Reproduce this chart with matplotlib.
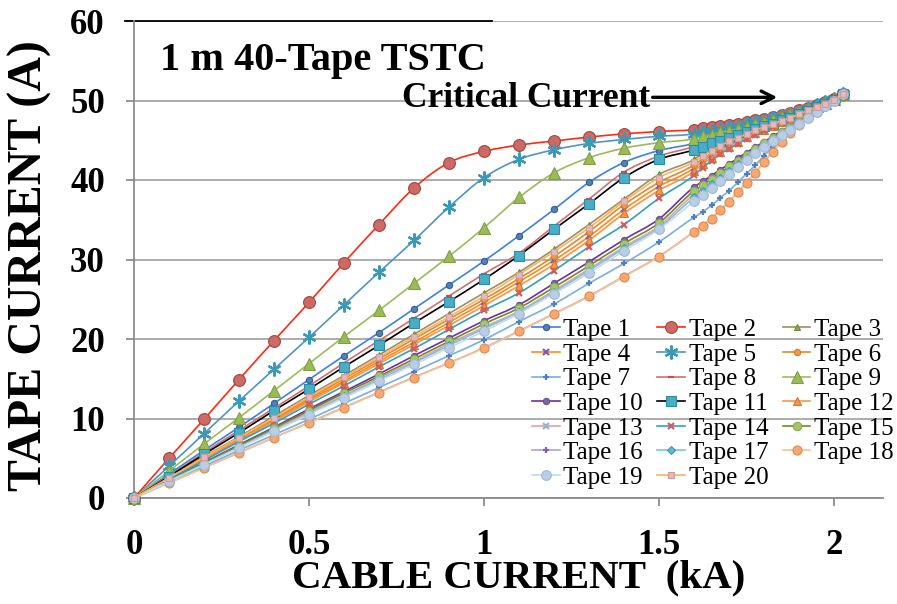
import numpy as np
import matplotlib
matplotlib.use("Agg")
import matplotlib.pyplot as plt
from matplotlib.path import Path
from matplotlib.patches import PathPatch
from matplotlib.lines import Line2D

plt.rcParams['font.family'] = ['Liberation Serif', 'DejaVu Serif']

# cable current (kA): 0.1 kA steps to 1.6 kA, then 25 A steps up to the critical current
cable_kA = [0.0, 0.1, 0.2, 0.3, 0.4, 0.5, 0.6, 0.7, 0.8, 0.9, 1.0, 1.1, 1.2, 1.3, 1.4, 1.5, 1.6,
            1.625, 1.65, 1.675, 1.7, 1.725, 1.75, 1.775, 1.8, 1.825, 1.85, 1.875, 1.9, 1.925,
            1.95, 1.975, 2.0, 2.025]

# tape currents (A)
tape_1 = [0, 3.0, 6.0, 8.9, 11.9, 14.9, 17.9, 20.8, 23.8, 26.8, 29.8, 33.0, 36.3, 39.7, 42.2, 43.7, 44.6,
          44.9, 45.25, 45.55, 45.85, 46.1, 46.4, 46.75, 47.0, 47.35, 47.7, 48.05, 48.4, 48.85, 49.25, 49.7, 50.15, 50.8]
tape_2 = [0, 5.0, 9.9, 14.9, 19.8, 24.6, 29.6, 34.4, 39.0, 42.2, 43.6, 44.4, 44.9, 45.4, 45.8, 46.1, 46.35,
          46.5, 46.65, 46.8, 46.95, 47.1, 47.3, 47.5, 47.7, 47.95, 48.2, 48.45, 48.75, 49.1, 49.45, 49.8, 50.2, 50.8]
tape_3 = [0, 2.6, 5.2, 7.7, 10.3, 12.9, 15.4, 18.0, 20.6, 23.2, 25.8, 28.4, 31.3, 34.4, 37.6, 40.7, 42.6,
          43.3, 43.9, 44.5, 45.0, 45.45, 45.9, 46.35, 46.7, 47.1, 47.5, 47.9, 48.3, 48.75, 49.2, 49.6, 50.1, 50.8]
tape_4 = [0, 2.45, 4.9, 7.4, 9.8, 12.3, 14.7, 17.2, 19.6, 22.1, 24.6, 27.2, 29.9, 32.9, 36.3, 39.2, 41.5,
          42.35, 43.1, 43.8, 44.45, 44.95, 45.5, 46.0, 46.45, 46.9, 47.35, 47.7, 48.15, 48.65, 49.1, 49.55, 50.1, 50.8]
tape_5 = [0, 4.0, 8.1, 12.2, 16.2, 20.2, 24.3, 28.4, 32.4, 36.6, 40.3, 42.6, 43.8, 44.6, 45.1, 45.5, 45.8,
          46.0, 46.2, 46.4, 46.6, 46.8, 47.0, 47.3, 47.5, 47.8, 48.0, 48.3, 48.6, 49.0, 49.4, 49.8, 50.2, 50.8]
tape_6 = [0, 2.5, 5.0, 7.5, 10.0, 12.5, 15.0, 17.5, 20.0, 22.5, 25.0, 27.6, 30.4, 33.5, 36.9, 39.7, 41.9,
          42.65, 43.4, 44.05, 44.65, 45.15, 45.65, 46.1, 46.55, 46.95, 47.4, 47.8, 48.2, 48.7, 49.15, 49.6, 50.1, 50.8]
tape_7 = [0, 2.0, 4.0, 6.0, 7.95, 9.9, 11.9, 13.9, 15.9, 17.9, 19.9, 22.2, 24.4, 27.0, 29.5, 32.2, 35.3,
          36.0, 36.8, 37.75, 38.65, 39.7, 40.8, 41.85, 43.05, 44.2, 45.35, 46.35, 47.2, 48.0, 48.7, 49.35, 50.0, 50.8]
tape_8 = [0, 2.8, 5.7, 8.5, 11.3, 14.1, 17.0, 19.8, 22.6, 25.4, 28.2, 30.8, 34.2, 37.6, 41.0, 43.0, 44.2,
          44.55, 44.95, 45.25, 45.55, 45.85, 46.2, 46.55, 46.9, 47.25, 47.6, 47.95, 48.35, 48.8, 49.2, 49.65, 50.1, 50.8]
tape_9 = [0, 3.4, 6.8, 10.1, 13.5, 16.9, 20.3, 23.6, 27.0, 30.4, 34.0, 37.8, 40.9, 42.8, 44.0, 44.7, 45.2,
          45.5, 45.7, 46.0, 46.2, 46.4, 46.7, 47.0, 47.3, 47.6, 47.9, 48.2, 48.5, 48.9, 49.3, 49.7, 50.2, 50.8]
tape_10 = [0, 2.25, 4.45, 6.7, 8.9, 11.2, 13.4, 15.6, 17.9, 20.1, 22.3, 24.3, 27.0, 29.7, 32.5, 35.1, 39.1,
           39.85, 40.55, 41.3, 42.0, 42.75, 43.45, 44.15, 44.8, 45.5, 46.15, 46.8, 47.45, 48.1, 48.7, 49.35, 50.0, 50.8]
tape_11 = [0, 2.7, 5.5, 8.2, 11.0, 13.7, 16.5, 19.2, 22.0, 24.7, 27.5, 30.5, 33.8, 37.0, 40.3, 42.6, 43.8,
           44.2, 44.6, 44.95, 45.3, 45.65, 46.0, 46.4, 46.75, 47.1, 47.5, 47.85, 48.25, 48.7, 49.15, 49.6, 50.1, 50.8]
tape_12 = [0, 2.4, 4.85, 7.25, 9.65, 12.1, 14.5, 16.9, 19.3, 21.7, 24.2, 26.7, 29.4, 32.4, 35.8, 38.7, 41.1,
           42.0, 42.8, 43.55, 44.2, 44.8, 45.35, 45.85, 46.35, 46.8, 47.25, 47.65, 48.1, 48.65, 49.1, 49.55, 50.1, 50.8]
tape_13 = [0, 2.15, 4.3, 6.45, 8.6, 10.8, 12.9, 15.1, 17.2, 19.4, 21.5, 23.5, 26.1, 28.8, 31.6, 34.2, 38.2,
           39.0, 39.8, 40.6, 41.4, 42.2, 43.0, 43.75, 44.45, 45.2, 45.9, 46.6, 47.3, 47.95, 48.65, 49.3, 49.95, 50.8]
tape_14 = [0, 2.35, 4.7, 7.1, 9.4, 11.8, 14.1, 16.5, 18.8, 21.2, 23.6, 25.8, 28.6, 31.6, 34.4, 37.7, 40.6,
           41.55, 42.45, 43.25, 43.95, 44.55, 45.15, 45.7, 46.2, 46.7, 47.15, 47.6, 48.05, 48.6, 49.05, 49.5, 50.1, 50.8]
tape_15 = [0, 2.2, 4.4, 6.6, 8.8, 11.0, 13.2, 15.3, 17.5, 19.7, 21.9, 23.9, 26.5, 29.2, 32.0, 34.6, 38.6,
           39.35, 40.15, 40.9, 41.7, 42.45, 43.2, 43.95, 44.6, 45.3, 46.05, 46.65, 47.35, 48.0, 48.65, 49.35, 49.95, 50.8]
tape_16 = [0, 1.9, 3.8, 5.7, 7.6, 9.5, 11.4, 13.3, 15.2, 17.0, 18.9, 21.0, 23.2, 25.4, 27.9, 30.4, 33.5,
           34.3, 35.2, 36.25, 37.3, 38.5, 39.7, 40.95, 42.3, 43.6, 44.85, 46.0, 46.95, 47.8, 48.55, 49.3, 49.95, 50.8]
tape_17 = [0, 2.15, 4.25, 6.4, 8.5, 10.6, 12.8, 14.9, 17.0, 19.2, 21.3, 23.4, 25.9, 28.6, 31.4, 34.0, 37.8,
           38.65, 39.45, 40.3, 41.15, 41.95, 42.75, 43.55, 44.3, 45.05, 45.8, 46.5, 47.2, 47.9, 48.6, 49.3, 49.95, 50.8]
tape_18 = [0, 1.9, 3.8, 5.7, 7.6, 9.45, 11.35, 13.25, 15.15, 17.0, 18.85, 20.95, 23.15, 25.35, 27.85, 30.35, 33.45,
           34.25, 35.15, 36.2, 37.25, 38.45, 39.65, 40.9, 42.25, 43.55, 44.8, 45.95, 46.9, 47.75, 48.5, 49.25, 49.95, 50.8]
tape_19 = [0, 2.1, 4.2, 6.3, 8.4, 10.5, 12.6, 14.7, 16.8, 18.9, 21.0, 23.2, 25.7, 28.3, 31.1, 33.8, 37.3,
           38.15, 39.05, 39.9, 40.8, 41.65, 42.5, 43.35, 44.1, 44.85, 45.65, 46.35, 47.1, 47.8, 48.55, 49.25, 49.9, 50.8]
tape_20 = [0, 2.55, 5.1, 7.6, 10.1, 12.7, 15.2, 17.7, 20.3, 22.8, 25.4, 28.1, 31.0, 34.0, 37.3, 40.3, 42.3,
           43.0, 43.7, 44.3, 44.85, 45.3, 45.8, 46.25, 46.65, 47.05, 47.45, 47.85, 48.25, 48.75, 49.15, 49.6, 50.1, 50.8]

tapes = [tape_1, tape_2, tape_3, tape_4, tape_5, tape_6, tape_7, tape_8, tape_9, tape_10,
         tape_11, tape_12, tape_13, tape_14, tape_15, tape_16, tape_17, tape_18, tape_19, tape_20]
labels = ['Tape %d' % (i + 1) for i in range(20)]

# line colour, marker, marker face, marker edge, marker size
styles = [
    ('#3f7fe6', 'o', '#4f81bd', '#385d8a', 4.5),
    ('#ff2a10', 'o', '#cd6a66', '#a04541', 8.5),
    ('#9c9060', '^', '#8fa84a', '#6f8a35', 4.5),
    ('#ff8a1c', 'x', '#7f5fa8', '#7f5fa8', 4.5),
    ('#4f93c8', (6, 2, 0), '#4bacc6', '#3a9ab5', 10),
    ('#e3872e', 'o', '#f79646', '#d4782c', 4.5),
    ('#78aee0', '+', '#4f81bd', '#4f81bd', 4.5),
    ('#d07070', '_', '#c0504d', '#c0504d', 5),
    ('#9bbb59', '^', '#9bbb59', '#7f9f40', 9),
    ('#7030a0', 'o', '#8064a2', '#6a5090', 4.5),
    ('#000000', 's', '#4bacc6', '#2c8ba5', 6.5),
    ('#f79646', '^', '#f79646', '#d4782c', 6),
    ('#e6a0a0', 'x', '#95b3d7', '#95b3d7', 4.5),
    ('#31a0c0', 'x', '#d06060', '#d06060', 4.5),
    ('#6e8b2a', 'o', '#a5c56a', '#8aa850', 6),
    ('#b3a2c7', '+', '#8064a2', '#8064a2', 4.5),
    ('#7cc4da', 'D', '#5bbcd6', '#3a9ab5', 4.5),
    ('#fac090', 'o', '#f9a870', '#e08850', 6.5),
    ('#c6d9f1', 'o', '#b9cde5', '#9fb8d8', 7),
    ('#ffb060', 's', '#e6b9b8', '#d09a98', 4),
]


def smooth_path(xs, ys):
    # cubic Hermite through the points, drawn as bezier segments (smoothed line)
    xs = np.asarray(xs, float)
    ys = np.asarray(ys, float)
    d = np.gradient(ys, xs)
    verts = [(xs[0], ys[0])]
    codes = [Path.MOVETO]
    for i in range(len(xs) - 1):
        h = xs[i + 1] - xs[i]
        verts += [(xs[i] + h / 3, ys[i] + d[i] * h / 3),
                  (xs[i + 1] - h / 3, ys[i + 1] - d[i + 1] * h / 3),
                  (xs[i + 1], ys[i + 1])]
        codes += [Path.CURVE4] * 3
    return Path(verts, codes)


fig = plt.figure(figsize=(8.97, 6.04), dpi=100)
ax = fig.add_axes([134 / 897, 1 - 498 / 604, (883 - 134) / 897, (498 - 21) / 604])

handles = []
for i, (vals, (lc, mk, mfc, mec, ms)) in enumerate(zip(tapes, styles)):
    z = 3 + i
    ax.add_patch(PathPatch(smooth_path(cable_kA, vals), facecolor='none',
                           edgecolor=lc, lw=1.2, zorder=z, clip_on=False))
    mew = 1.6 if mk in ('x', '+', '_', (6, 2, 0)) else 0.8
    ax.plot(cable_kA, vals, ls='none', marker=mk, ms=ms, mfc=mfc, mec=mec,
            mew=mew, zorder=z, clip_on=False)
    handles.append(Line2D([0], [0], color=lc, lw=1.2, marker=mk, ms=ms,
                          mfc=mfc, mec=mec, mew=mew))

ax.set_xlim(0, 2.14)
ax.set_ylim(0, 60)
ax.set_xticks([0, 0.5, 1, 1.5, 2])
ax.set_xticklabels(['0', '0.5', '1', '1.5', '2'])
ax.set_yticks(range(0, 61, 10))
ax.yaxis.grid(True, color='#a6a6a6', lw=1.3)
ax.set_axisbelow(True)
for s in ('top', 'right'):
    ax.spines[s].set_visible(False)
for s in ('left', 'bottom'):
    ax.spines[s].set_color('#8c8c8c')
    ax.spines[s].set_linewidth(1.3)
ax.tick_params(axis='both', direction='out', color='#8c8c8c', width=1.3, length=6,
               labelsize=25)
ax.tick_params(axis='x', pad=16)
ax.tick_params(axis='y', pad=15)
for t in ax.get_xticklabels() + ax.get_yticklabels():
    t.set_fontweight('bold')

fig.text(519 / 897, 1 - 578 / 604, 'CABLE CURRENT  (kA)', fontsize=29.5,
         fontweight='bold', ha='center', va='center')
fig.text(30 / 897, 1 - 266 / 604, 'TAPE CURRENT (A)', fontsize=34.5,
         fontweight='bold', ha='center', va='center', rotation=90)

# title box edge along the top gridline
ax.axhline(60, xmin=-0.012, xmax=0.478, color='black', lw=1.3, zorder=2, clip_on=False)
ax.text(0.035, 0.955, '1 m 40-Tape TSTC', transform=ax.transAxes, fontsize=29,
        fontweight='bold', va='top', ha='left')

ax.annotate('', xy=(1.846, 50.4), xytext=(1.474, 50.4),
            arrowprops=dict(arrowstyle='->,head_length=0.9,head_width=0.45', color='black', lw=2.4))
ax.text(1.474, 50.3, 'Critical Current', fontsize=25.5, fontweight='bold',
        ha='right', va='center')

order = list(range(0, 20, 3)) + list(range(1, 20, 3)) + list(range(2, 20, 3))
ax.legend([handles[i] for i in order], [labels[i] for i in order], ncol=3,
          loc='upper left', bbox_to_anchor=(532 / 897, 1 - 318.5 / 604),
          bbox_transform=fig.transFigure, frameon=False, fontsize=18,
          handlelength=1.1, handletextpad=0.15, columnspacing=0.58,
          labelspacing=0.085, borderpad=0, borderaxespad=0)

fig.savefig('out.png', dpi=100)
